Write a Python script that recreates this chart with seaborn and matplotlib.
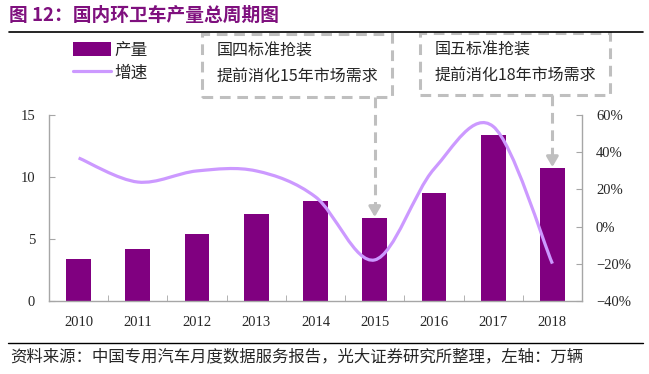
import numpy as np
import matplotlib
matplotlib.use("Agg")
import matplotlib.pyplot as plt
import seaborn as sns
from matplotlib.path import Path
from matplotlib.patches import PathPatch, Rectangle, Patch
from matplotlib.lines import Line2D
from matplotlib.ticker import PercentFormatter, FixedLocator

# 数据 (万辆 / 增速)
years = ["2010", "2011", "2012", "2013", "2014", "2015", "2016", "2017", "2018"]
production = [3.35, 4.16, 5.40, 7.00, 8.10, 6.67, 8.71, 13.38, 10.71]
growth = [0.37, 0.24, 0.30, 0.30, 0.16, -0.18, 0.31, 0.54, -0.20]

BAR_C = "#800080"
LINE_C = "#CC99FF"
GRAY = "#A6A6A6"
BOX_C = "#BFBFBF"

sns.set_style("white")
plt.rcParams["font.family"] = ["Liberation Serif", "Noto Sans CJK SC", "DejaVu Sans"]
CJK = ["Noto Sans CJK SC", "DejaVu Sans"]

W, H = 649, 374
fig = plt.figure(figsize=(W / 100, H / 100), dpi=100)


def fx(px):
    return px / W


def fy(py):
    return 1 - py / H


ax = fig.add_axes([fx(49), fy(300.7), fx(582) - fx(49), fy(115.3) - fy(300.7)])
sns.barplot(x=years, y=production, color=BAR_C, saturation=1, width=0.42,
            linewidth=0, ax=ax)
ax.set_xlim(-0.5, len(years) - 0.5)
ax.set_ylim(0, 15)
ax.set_yticks([0, 5, 10, 15])
ax.set_xlabel("")
ax.set_ylabel("")

# 右轴：增速，平滑曲线 (类似Excel平滑线)
ax2 = ax.twinx()
ax2.set_ylim(-0.4, 0.6)
ax2.set_yticks([-0.4, -0.2, 0, 0.2, 0.4, 0.6])
ax2.yaxis.set_major_formatter(PercentFormatter(1.0, decimals=0))


def smooth_path(x, y):
    n = len(x)
    verts = [(x[0], y[0])]
    codes = [Path.MOVETO]
    for i in range(n - 1):
        xa, ya = (x[i - 1], y[i - 1]) if i > 0 else (x[i], y[i])
        xd, yd = (x[i + 2], y[i + 2]) if i + 2 < n else (x[i + 1], y[i + 1])
        c1 = (x[i] + (x[i + 1] - xa) / 6, y[i] + (y[i + 1] - ya) / 6)
        c2 = (x[i + 1] - (xd - x[i]) / 6, y[i + 1] - (yd - y[i]) / 6)
        verts += [c1, c2, (x[i + 1], y[i + 1])]
        codes += [Path.CURVE4] * 3
    return Path(verts, codes)


xs = list(range(len(years)))
ax2.add_patch(PathPatch(smooth_path(xs, growth), fill=False, edgecolor=LINE_C,
                        lw=2.3, capstyle="butt", zorder=3))

# 轴样式
for a in (ax, ax2):
    for s in a.spines.values():
        s.set_color(GRAY)
        s.set_linewidth(1.0)
    a.spines["top"].set_visible(False)
ax.spines["right"].set_visible(False)
ax2.spines["left"].set_visible(False)
ax2.spines["bottom"].set_visible(False)

ax.tick_params(axis="y", direction="in", length=4, color=GRAY, labelsize=10.5, pad=10, left=True)
ax.tick_params(axis="x", which="major", length=0, labelsize=10.5, pad=11)
ax.xaxis.set_minor_locator(FixedLocator(np.arange(0.5, len(years) - 1, 1.0)))
ax.tick_params(axis="x", which="minor", direction="in", length=4, color=GRAY, bottom=True)
ax2.tick_params(axis="y", direction="in", length=4, color=GRAY, labelsize=10.5, pad=10, right=True)

# 图例
handles = [Patch(facecolor=BAR_C, edgecolor="none"),
           Line2D([0], [0], color=LINE_C, lw=2.3)]
fig.legend(handles, ["产量", "增速"], loc="upper left",
           bbox_to_anchor=(fx(58), fy(27)), frameon=False, handlelength=2.3,
           handleheight=0.9, handletextpad=0.2, labelspacing=0.35,
           prop={"family": CJK, "size": 12})

# 标题与上下分隔线
fig.text(fx(9), fy(15), "图 12：国内环卫车产量总周期图", fontsize=13.5, fontweight="bold",
         color="#7F107E", va="center", ha="left", family=CJK)
fig.add_artist(Line2D([fx(9), fx(643)], [fy(32), fy(32)], color="black", lw=1.2))
fig.add_artist(Line2D([fx(8), fx(643)], [fy(343), fy(343)], color="black", lw=1.0))
fig.text(fx(10), fy(357), "资料来源：中国专用汽车月度数据服务报告，光大证券研究所整理，左轴：万辆",
         fontsize=11.8, va="center", ha="left", family=CJK)

# 虚线注释框
notes = [
    ((202, 34, 392, 97), ["国四标准抢装", "提前消化15年市场需求"], 5),
    ((420, 33, 610, 95), ["国五标准抢装", "提前消化18年市场需求"], 8),
]
for (x0, y0, x1, y1), lines, idx in notes:
    fig.add_artist(Rectangle((fx(x0), fy(y1)), fx(x1) - fx(x0), fy(y0) - fy(y1),
                             fill=False, edgecolor=BOX_C, lw=2.2,
                             linestyle=(0, (3.5, 2.2)), transform=fig.transFigure))
    fig.text(fx(x0 + 15), fy(y0 + 17), lines[0], fontsize=11.5, va="center",
             ha="left", family=CJK)
    fig.text(fx(x0 + 15), fy(y0 + 42), lines[1], fontsize=11.5, va="center",
             ha="left", family=CJK)
    # 虚线箭头：框底 -> 柱顶
    top = production[idx]
    y_box = (300.7 - y1) / 12.36
    ax.plot([idx, idx], [y_box, top + 1.0], color=BOX_C, lw=2.2,
            linestyle=(0, (3.5, 2.2)), clip_on=False, zorder=4)
    ax.annotate("", xy=(idx, top + 0.1), xytext=(idx, top + 1.05),
                arrowprops=dict(arrowstyle="-|>,head_length=0.6,head_width=0.35",
                                color=BOX_C, lw=2.2, shrinkA=0, shrinkB=0),
                zorder=4, annotation_clip=False)

fig.savefig("out.png", dpi=100)
